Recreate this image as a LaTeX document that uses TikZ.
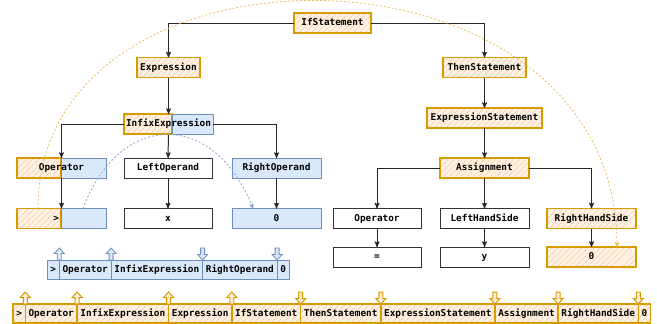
\documentclass[tikz,border=0pt]{standalone}
\usepackage{fontspec}
\setmonofont{DejaVu Sans Mono}
\usetikzlibrary{arrows,shapes,positioning,patterns.meta}

\definecolor{orgline}{RGB}{215,155,0}
\definecolor{orgfill}{RGB}{255,242,228}
\definecolor{orghatch}{RGB}{248,206,162}
\definecolor{bluline}{RGB}{108,142,191}
\definecolor{blufill}{RGB}{218,232,252}
\definecolor{arcorg}{RGB}{236,190,92}
\definecolor{arcblu}{RGB}{140,165,210}

\begin{document}
\begin{tikzpicture}[x=1pt,y=-1pt,>=stealth',semithick,
                    font=\ttfamily\bfseries\fontsize{9.4}{11}\selectfont]
  \tikzstyle{box}=[rectangle,minimum height=20pt,minimum width=89pt,inner sep=0pt,
                   outer sep=0pt,text height=7pt,text depth=2pt]
  \tikzstyle{txt}=[box]
  \tikzstyle{plainbox}=[box,draw=black!80,fill=white,line width=0.9pt]
  \tikzstyle{orgbox}=[box,draw=orgline,line width=1.4pt,preaction={fill=orgfill},
                      pattern={Lines[angle=45,distance=4pt,line width=0.7pt]},pattern color=orghatch]
  \tikzstyle{blubox}=[box,draw=bluline,fill=blufill,line width=0.9pt]
  \tikzstyle{tok}=[minimum width=0pt,minimum height=19pt,inner xsep=3.3pt,inner ysep=0pt]
  \tikzstyle{conn}=[->,draw=black!85,line width=1pt]
  \tikzstyle{orgarr}=[draw=orgline,line width=1pt,preaction={fill=orgfill},
                      pattern={Lines[angle=45,distance=4pt,line width=0.7pt]},pattern color=orghatch]
  \tikzstyle{bluarr}=[draw=bluline,fill=blufill,line width=0.8pt]

  \useasboundingbox (0,0) rectangle (657,324);

  \node[orgbox, minimum width=77pt] (ifst) at (332.5,23) {IfStatement};
  \node[orgbox, minimum width=63pt] (expr) at (168.5,67.5) {Expression};
  \node[orgbox, minimum width=83pt] (then) at (484.5,67.5) {ThenStatement};
  \node[orgbox, minimum width=115pt] (exst) at (484.5,118) {ExpressionStatement};

  \node[orgbox, minimum width=48pt, anchor=west] (infixa) at (124,124) {};
  \node[blubox, minimum width=41pt, anchor=west] (infixb) at (infixa.east) {};
  \node[txt] (infix) at (168.5,124) {InfixExpression};

  \node[orgbox, minimum width=44pt, anchor=west] (opLa) at (17,168) {};
  \node[blubox, minimum width=45pt, anchor=west] (opLb) at (opLa.east) {};
  \node[txt] (opL) at (61.5,168) {Operator};
  \node[plainbox, minimum width=88pt] (lop) at (168,168) {LeftOperand};
  \node[blubox] (rop) at (276.5,168) {RightOperand};

  \node[orgbox, minimum width=44pt, text width=40pt, align=right, anchor=west] (gta) at (17,218.5) {>};
  \node[blubox, minimum width=45pt, anchor=west] (gtb) at (gta.east) {};
  \node[txt] (gt) at (61.5,218.5) {};
  \node[plainbox, minimum width=88pt] (xval) at (168,218.5) {x};
  \node[blubox] (zeroL) at (276.5,218.5) {0};

  \node[orgbox] (assign) at (484.5,168) {Assignment};
  \node[plainbox, minimum width=88pt] (opR) at (377,218.5) {Operator};
  \node[plainbox] (lhs) at (484.5,218.5) {LeftHandSide};
  \node[orgbox] (rhs) at (591.5,218.5) {RightHandSide};
  \node[plainbox, minimum width=88pt] (eq) at (377,257) {=};
  \node[plainbox] (yval) at (484.5,257) {y};
  \node[orgbox] (zeroR) at (591.5,257) {0};

  \draw[conn] (ifst.west) -| (expr);
  \draw[conn] (ifst.east) -| (then);
  \draw[conn] (expr) -- (infix);
  \draw[conn] (infix.west) -| (opL);
  \draw[conn] (infix) -- (lop);
  \draw[conn] (infix.east) -| (rop);
  \draw[conn] (opL) -- (gt);
  \draw[conn] (lop) -- (xval);
  \draw[conn] (rop) -- (zeroL);
  \draw[conn] (then) -- (exst);
  \draw[conn] (exst) -- (assign);
  \draw[conn] (assign.west) -| (opR);
  \draw[conn] (assign) -- (lhs);
  \draw[conn] (assign.east) -| (rhs);
  \draw[conn] (opR) -- (eq);
  \draw[conn] (lhs) -- (yval);
  \draw[conn] (rhs) -- (zeroR);

  \draw[->, draw=arcorg, line width=0.8pt, dash pattern=on 2pt off 2pt]
    ([xshift=-23.5pt]gt.north) .. controls +(0,-285) and +(0,-320) .. ([xshift=25.5pt]zeroR.north);
  \draw[->, draw=arcblu, line width=0.8pt, dash pattern=on 2pt off 2pt]
    ([xshift=21.5pt]gt.north) .. controls +(37,-99) and +(-38,-98) .. ([xshift=-23.5pt]zeroL.north);

  \node[blubox, tok, anchor=west] (s1) at (47,269.5) {>};
  \node[blubox, tok, right=0pt of s1] (s2) {Operator};
  \node[blubox, tok, right=0pt of s2] (s3) {InfixExpression};
  \node[blubox, tok, right=0pt of s3] (s4) {RightOperand};
  \node[blubox, tok, right=0pt of s4] (s5) {0};

  \foreach \n in {s1,s2}
    \draw[bluarr] (\n.north east) ++(-2,0) -- ++(0,-6.5) -- ++(-3,0) -- ++(5,-5.5)
      -- ++(5,5.5) -- ++(-3,0) -- ++(0,6.5) -- cycle;
  \foreach \n in {s3,s4}
    \draw[bluarr] (\n.north east) ++(-2,-12) -- ++(0,6.5) -- ++(-3,0) -- ++(5,5.5)
      -- ++(5,-5.5) -- ++(-3,0) -- ++(0,-6.5) -- cycle;

  \node[orgbox, tok, anchor=west] (b1) at (13,313.5) {>};
  \node[orgbox, tok, right=0pt of b1] (b2) {Operator};
  \node[orgbox, tok, right=0pt of b2] (b3) {InfixExpression};
  \node[orgbox, tok, right=0pt of b3] (b4) {Expression};
  \node[orgbox, tok, right=0pt of b4] (b5) {IfStatement};
  \node[orgbox, tok, right=0pt of b5] (b6) {ThenStatement};
  \node[orgbox, tok, right=0pt of b6] (b7) {ExpressionStatement};
  \node[orgbox, tok, right=0pt of b7] (b8) {Assignment};
  \node[orgbox, tok, right=0pt of b8] (b9) {RightHandSide};
  \node[orgbox, tok, right=0pt of b9] (b10) {0};

  \foreach \n in {b1,b2,b3,b4}
    \draw[orgarr] (\n.north east) ++(-2,0) -- ++(0,-6.5) -- ++(-3,0) -- ++(5,-5.5)
      -- ++(5,5.5) -- ++(-3,0) -- ++(0,6.5) -- cycle;
  \foreach \n in {b5,b6,b7,b8,b9}
    \draw[orgarr] (\n.north east) ++(-2,-12) -- ++(0,6.5) -- ++(-3,0) -- ++(5,5.5)
      -- ++(5,-5.5) -- ++(-3,0) -- ++(0,-6.5) -- cycle;

\end{tikzpicture}
\end{document}
